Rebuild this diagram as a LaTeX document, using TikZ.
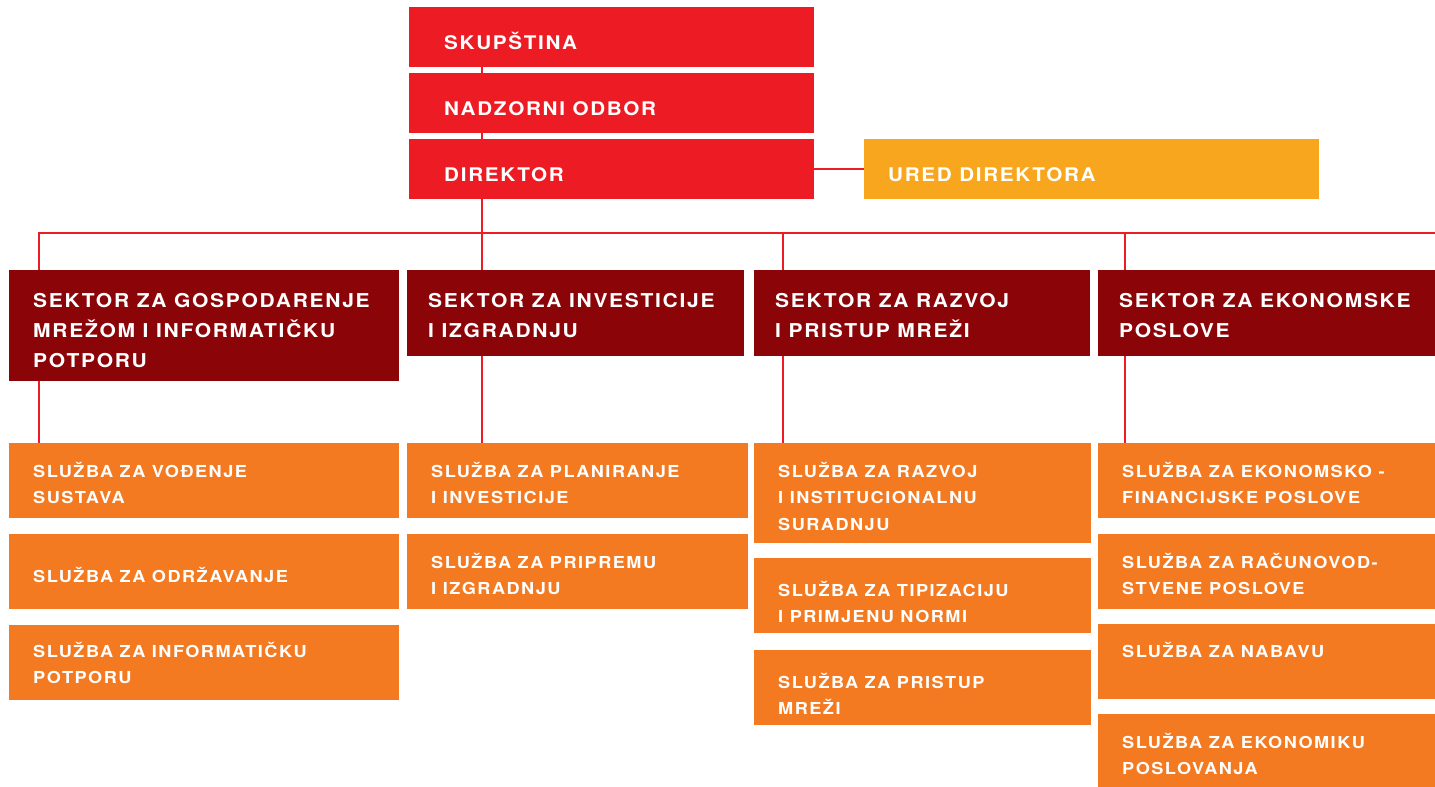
\documentclass[tikz,border=0pt]{standalone}
\usepackage{fontspec}
\newfontfamily\orgfont[LetterSpace=9,FakeStretch=1.1]{TeX Gyre Heros}
\definecolor{topred}{HTML}{ED1C24}
\definecolor{secred}{HTML}{8B0508}
\definecolor{svcorange}{HTML}{F47A22}
\definecolor{uredamber}{HTML}{F8A61D}
\newcommand\twol[2]{\vtop{\hbox{#1}\hbox{#2}}}
\newcommand\threel[3]{\vtop{\hbox{#1}\hbox{#2}\hbox{#3}}}
\begin{document}
\begin{tikzpicture}[x=1pt,y=-1pt,
  box/.style={inner sep=0pt, outer sep=0pt, anchor=north west, draw=none},
  topbox/.style={box, fill=topred, minimum width=405pt, minimum height=60pt},
  uredbox/.style={box, fill=uredamber, minimum width=455pt, minimum height=60pt},
  secbox/.style={box, fill=secred, minimum height=86pt},
  svcbox/.style={box, fill=svcorange, minimum height=75pt},
  toptxt/.style={anchor=base west, inner sep=0pt, text=white, font=\orgfont\bfseries\fontsize{18.8}{30}\selectfont},
  bigtxt/.style={anchor=base west, inner sep=0pt, text=white, font=\orgfont\bfseries\fontsize{19.1}{30}\selectfont},
  smalltxt/.style={anchor=base west, inner sep=0pt, text=white, font=\orgfont\bfseries\fontsize{16.5}{26.8}\selectfont},
  link/.style={draw=topred, line width=2pt}]
\useasboundingbox (0,0) rectangle (1435,787);

% connector coordinates
\coordinate (spine) at (482,233);
\coordinate (c1) at (39,233);
\coordinate (c3) at (783,233);
\coordinate (c4) at (1125,233);
\coordinate (busR) at (1435,233);

% top boxes
\node[topbox] (skup) at (409,7) {};
\node[topbox] (nadz) at (409,73) {};
\node[topbox] (dir) at (409,139) {};
\node[uredbox] (ured) at (864,139) {};

% sectors
\node[secbox, minimum width=390pt, minimum height=111pt] (sec1) at (9,270) {};
\node[secbox, minimum width=337pt] (sec2) at (407,270) {};
\node[secbox, minimum width=336pt] (sec3) at (754,270) {};
\node[secbox, minimum width=337pt] (sec4) at (1098,270) {};

% services col 1
\node[svcbox, minimum width=390pt] (s11) at (9,443) {};
\node[svcbox, minimum width=390pt] (s12) at (9,534) {};
\node[svcbox, minimum width=390pt] (s13) at (9,625) {};
% col 2
\node[svcbox, minimum width=341pt] (s21) at (407,443) {};
\node[svcbox, minimum width=341pt] (s22) at (407,534) {};
% col 3
\node[svcbox, minimum width=337pt, minimum height=100pt] (s31) at (754,443) {};
\node[svcbox, minimum width=337pt] (s32) at (754,558) {};
\node[svcbox, minimum width=337pt] (s33) at (754,650) {};
% col 4
\node[svcbox, minimum width=337pt] (s41) at (1098,443) {};
\node[svcbox, minimum width=337pt] (s42) at (1098,534) {};
\node[svcbox, minimum width=337pt] (s43) at (1098,624) {};
\node[svcbox, minimum width=337pt, minimum height=73pt] (s44) at (1098,714) {};

% connectors
\draw[link] (skup.south -| spine) -- (nadz.north -| spine);
\draw[link] (nadz.south -| spine) -- (dir.north -| spine);
\draw[link] (dir.south -| spine) -- (sec2.north -| spine);
\draw[link] (dir.east) -- (ured.west);
\draw[link] (sec1.north -| c1) -- (c1) -- (busR);
\draw[link] (c3) -- (sec3.north -| c3);
\draw[link] (c4) -- (sec4.north -| c4);
\draw[link] (sec1.south -| c1) -- (s11.north -| c1);
\draw[link] (sec2.south -| spine) -- (s21.north -| spine);
\draw[link] (sec3.south -| c3) -- (s31.north -| c3);
\draw[link] (sec4.south -| c4) -- (s41.north -| c4);

% texts top
\node[toptxt] (tskup) at (444,49) {SKUPŠTINA};
\node[toptxt] (tnadz) at (444,115) {NADZORNI ODBOR};
\node[toptxt] (tdir) at (444,181) {DIREKTOR};
\node[toptxt] (tured) at (888,181) {URED DIREKTORA};

% texts sectors
\node[bigtxt] (tsec1) at (33,307) {\threel{SEKTOR ZA GOSPODARENJE}{MREŽOM I INFORMATIČKU}{POTPORU}};
\node[bigtxt] (tsec2) at (428,307) {\twol{SEKTOR ZA INVESTICIJE}{I IZGRADNJU}};
\node[bigtxt] (tsec3) at (775,307) {\twol{SEKTOR ZA RAZVOJ}{I PRISTUP MREŽI}};
\node[bigtxt] (tsec4) at (1119,307) {\twol{SEKTOR ZA EKONOMSKE}{POSLOVE}};

% texts services
\node[smalltxt] (ts11) at (33,477) {\twol{SLUŽBA ZA VOĐENJE}{SUSTAVA}};
\node[smalltxt] (ts12) at (33,582) {SLUŽBA ZA ODRŽAVANJE};
\node[smalltxt] (ts13) at (33,657) {\twol{SLUŽBA ZA INFORMATIČKU}{POTPORU}};
\node[smalltxt] (ts21) at (431,477) {\twol{SLUŽBA ZA PLANIRANJE}{I INVESTICIJE}};
\node[smalltxt] (ts22) at (431,568) {\twol{SLUŽBA ZA PRIPREMU}{I IZGRADNJU}};
\node[smalltxt] (ts31) at (778,477) {\threel{SLUŽBA ZA RAZVOJ}{I INSTITUCIONALNU}{SURADNJU}};
\node[smalltxt] (ts32) at (778,596) {\twol{SLUŽBA ZA TIPIZACIJU}{I PRIMJENU NORMI}};
\node[smalltxt] (ts33) at (778,688) {\twol{SLUŽBA ZA PRISTUP}{MREŽI}};
\node[smalltxt] (ts41) at (1122,477) {\twol{SLUŽBA ZA EKONOMSKO -}{FINANCIJSKE POSLOVE}};
\node[smalltxt] (ts42) at (1122,568) {\twol{SLUŽBA ZA RAČUNOVOD-}{STVENE POSLOVE}};
\node[smalltxt] (ts43) at (1122,657) {SLUŽBA ZA NABAVU};
\node[smalltxt] (ts44) at (1122,748) {\twol{SLUŽBA ZA EKONOMIKU}{POSLOVANJA}};
\end{tikzpicture}
\end{document}
